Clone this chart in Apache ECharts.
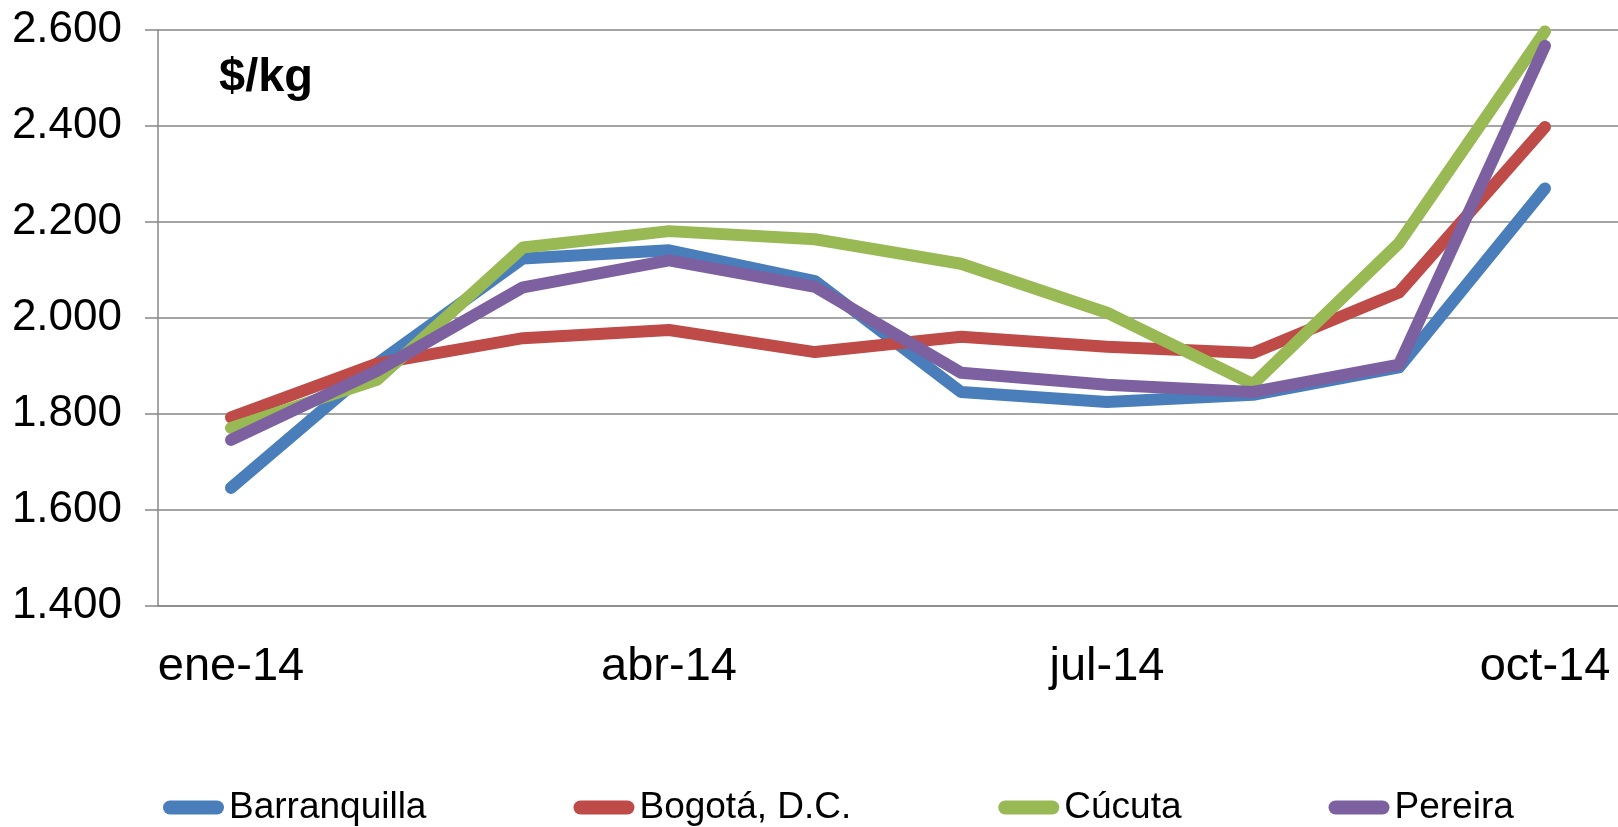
<!DOCTYPE html>
<html>
<head>
<meta charset="utf-8">
<title>Precios $/kg 2014</title>
<script src="https://cdn.jsdelivr.net/npm/echarts@6/dist/echarts.min.js"></script>
<style>
  html, body { margin: 0; padding: 0; background: #fff; }
  #chart { width: 1618px; height: 827px; }
</style>
</head>
<body>
<div id="chart"></div>
<script>
var months = ['ene-14', 'feb-14', 'mar-14', 'abr-14', 'may-14', 'jun-14', 'jul-14', 'ago-14', 'sep-14', 'oct-14']
var barranquilla = [1646, 1905, 2124, 2141, 2077, 1846, 1825, 1840, 1897, 2270]
var bogota = [1793, 1905, 1958, 1975, 1929, 1961, 1940, 1927, 2053, 2398]
var cucuta = [1771, 1871, 2147, 2181, 2164, 2113, 2011, 1862, 2156, 2597]
var pereira = [1746, 1890, 2064, 2120, 2065, 1886, 1861, 1846, 1903, 2567]
var yTicks = { min: 1400, max: 2600, step: 200 }

var font = '"Liberation Sans", Arial, sans-serif'
var gray = '#878787'

function line (name, data, color) {
  return {
    name: name,
    type: 'line',
    data: data,
    symbol: 'none',
    color: color,
    lineStyle: { width: 12, color: color, cap: 'round', join: 'round' }
  }
}

var chart = echarts.init(document.getElementById('chart'))
chart.setOption({
  animation: false,
  grid: { left: 158, top: 30, bottom: 221, right: -9 },
  graphic: [{
    type: 'text',
    left: 219,
    top: 55,
    style: { text: '$/kg', font: 'bold 47px ' + font, fill: '#000' }
  }],
  legend: {
    left: 158,
    top: 784,
    itemWidth: 61,
    itemHeight: 14,
    itemGap: 147,
    icon: 'path://M7,0L54,0A7,7,0,0,1,54,14L7,14A7,7,0,0,1,7,0Z',
    textStyle: { fontSize: 37, fontFamily: font, color: '#000' }
  },
  xAxis: {
    type: 'category',
    data: months,
    boundaryGap: true,
    axisLine: { lineStyle: { color: gray, width: 1.5 } },
    axisTick: { show: false },
    axisLabel: { interval: 2, fontSize: 47, fontFamily: font, color: '#000', margin: 38 },
    splitLine: { show: false }
  },
  yAxis: {
    type: 'value',
    min: yTicks.min,
    max: yTicks.max,
    interval: yTicks.step,
    axisLine: { show: true, lineStyle: { color: gray, width: 1.5 } },
    axisTick: { show: true, length: 13, lineStyle: { color: gray, width: 1.5 } },
    axisLabel: {
      fontSize: 44,
      fontFamily: font,
      color: '#000',
      margin: 36,
      formatter: function (v) {
        return String(v).replace(/\B(?=(\d{3})+(?!\d))/g, '.')
      }
    },
    splitLine: { show: true, lineStyle: { color: gray, width: 1.5 } }
  },
  series: [
    line('Barranquilla', barranquilla, '#4A7EBB'),
    line('Bogotá, D.C.', bogota, '#BE4B48'),
    line('Cúcuta', cucuta, '#98B954'),
    line('Pereira', pereira, '#7D60A0')
  ]
})
</script>
</body>
</html>
